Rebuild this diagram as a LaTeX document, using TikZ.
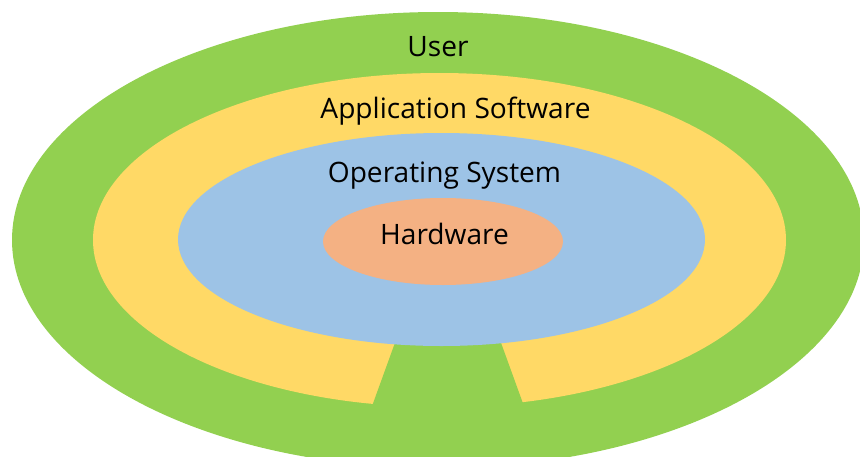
\documentclass[tikz,border=0pt]{standalone}
\usepackage{fontspec}
\setmainfont{Open Sans}
\definecolor{usergreen}{HTML}{92D050}
\definecolor{appyellow}{HTML}{FFD966}
\definecolor{osblue}{HTML}{9DC3E6}
\definecolor{hworange}{HTML}{F4B183}
\begin{document}
\begin{tikzpicture}[x=0.02cm,y=-0.02cm,
  lbl/.style={anchor=base,inner sep=0pt,font=\fontsize{16}{19}\selectfont,text=black}]
\useasboundingbox (0,0) rectangle (860,457);
\clip (0,0) rectangle (860,457);
\fill[usergreen] (438,240) ellipse [x radius=426, y radius=228];
\fill[appyellow] (439.5,240) ellipse [x radius=346.5, y radius=167];
\fill[usergreen] (410.5,300) -- (485.5,300) -- (529,420) -- (367,420) -- cycle;
\fill[osblue] (441.5,239.5) ellipse [x radius=263.5, y radius=106.5];
\fill[hworange] (443,241.5) ellipse [x radius=120, y radius=43.5];
\node[lbl] (user) at (438,56) {User};
\node[lbl] (app) at (455.5,118) {Application Software};
\node[lbl] (os) at (444.5,182) {Operating System};
\node[lbl] (hw) at (444.5,244) {Hardware};
\end{tikzpicture}
\end{document}
